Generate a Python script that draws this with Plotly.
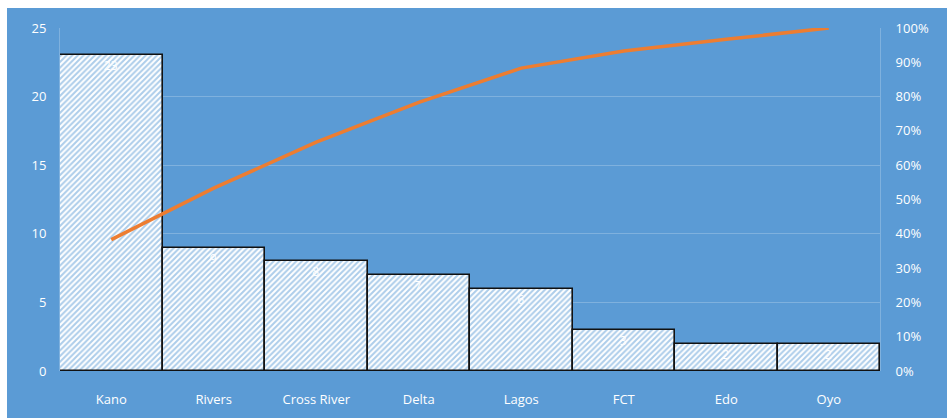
import plotly.graph_objects as go

states = ["Kano", "Rivers", "Cross River", "Delta", "Lagos", "FCT", "Edo", "Oyo"]
counts = [23, 9, 8, 7, 6, 3, 2, 2]
cum_pct = [38.3, 53.3, 66.7, 78.3, 88.3, 93.3, 96.7, 100.0]
left_ticks = [0, 5, 10, 15, 20, 25]
right_ticks = [0, 10, 20, 30, 40, 50, 60, 70, 80, 90, 100]
right_tick_labels = [f"{v}%" for v in right_ticks]

BG = "#5B9BD5"
GRID = "rgba(255,255,255,0.22)"
FONT = "Open Sans"

fig = go.Figure()
fig.add_trace(go.Bar(
    x=states, y=counts,
    text=[str(c) for c in counts],
    textposition="inside", insidetextanchor="end",
    textfont=dict(color="white", size=12, family=FONT),
    marker=dict(
        color="white",
        line=dict(color="#111111", width=1.6),
        pattern=dict(shape="/", fgcolor="#5B9BD5", bgcolor="white", size=4, solidity=0.5, fillmode="overlay"),
    ),
    width=1.0,
    showlegend=False,
))
fig.add_trace(go.Scatter(
    x=states, y=cum_pct, yaxis="y2", mode="lines",
    line=dict(color="#ED7D31", width=3.5),
    showlegend=False,
))

fig.update_layout(
    width=947, height=418,
    margin=dict(l=60, r=67, t=28, b=47, autoexpand=False),
    paper_bgcolor="white",
    plot_bgcolor=BG,
    bargap=0,
    font=dict(family=FONT, color="white", size=13),
    xaxis=dict(showgrid=False, zeroline=False, ticks="outside", ticklen=16, tickcolor="rgba(0,0,0,0)",
               tickfont=dict(size=13, color="white"), range=[-0.5, 7.5], automargin=False),
    yaxis=dict(range=[0, 25], tickvals=left_ticks, showgrid=True, gridcolor=GRID, gridwidth=1,
               zeroline=False, ticks="outside", ticklen=10, tickcolor="rgba(0,0,0,0)",
               tickfont=dict(size=13, color="white"), automargin=False,
               showline=True, linecolor=GRID, linewidth=1),
    yaxis2=dict(range=[0, 100], tickvals=right_ticks, ticktext=right_tick_labels, overlaying="y",
                side="right", showgrid=False, zeroline=False, ticks="outside", ticklen=12,
                tickcolor="rgba(0,0,0,0)", tickfont=dict(size=13, color="white"), automargin=False,
                showline=True, linecolor=GRID, linewidth=1),
    shapes=[dict(type="rect", xref="paper", yref="paper", x0=-53/820, x1=1.09, y0=-0.15, y1=363/343,
                 fillcolor=BG, line=dict(width=0), layer="below")],
)

fig.write_html("out.html")
